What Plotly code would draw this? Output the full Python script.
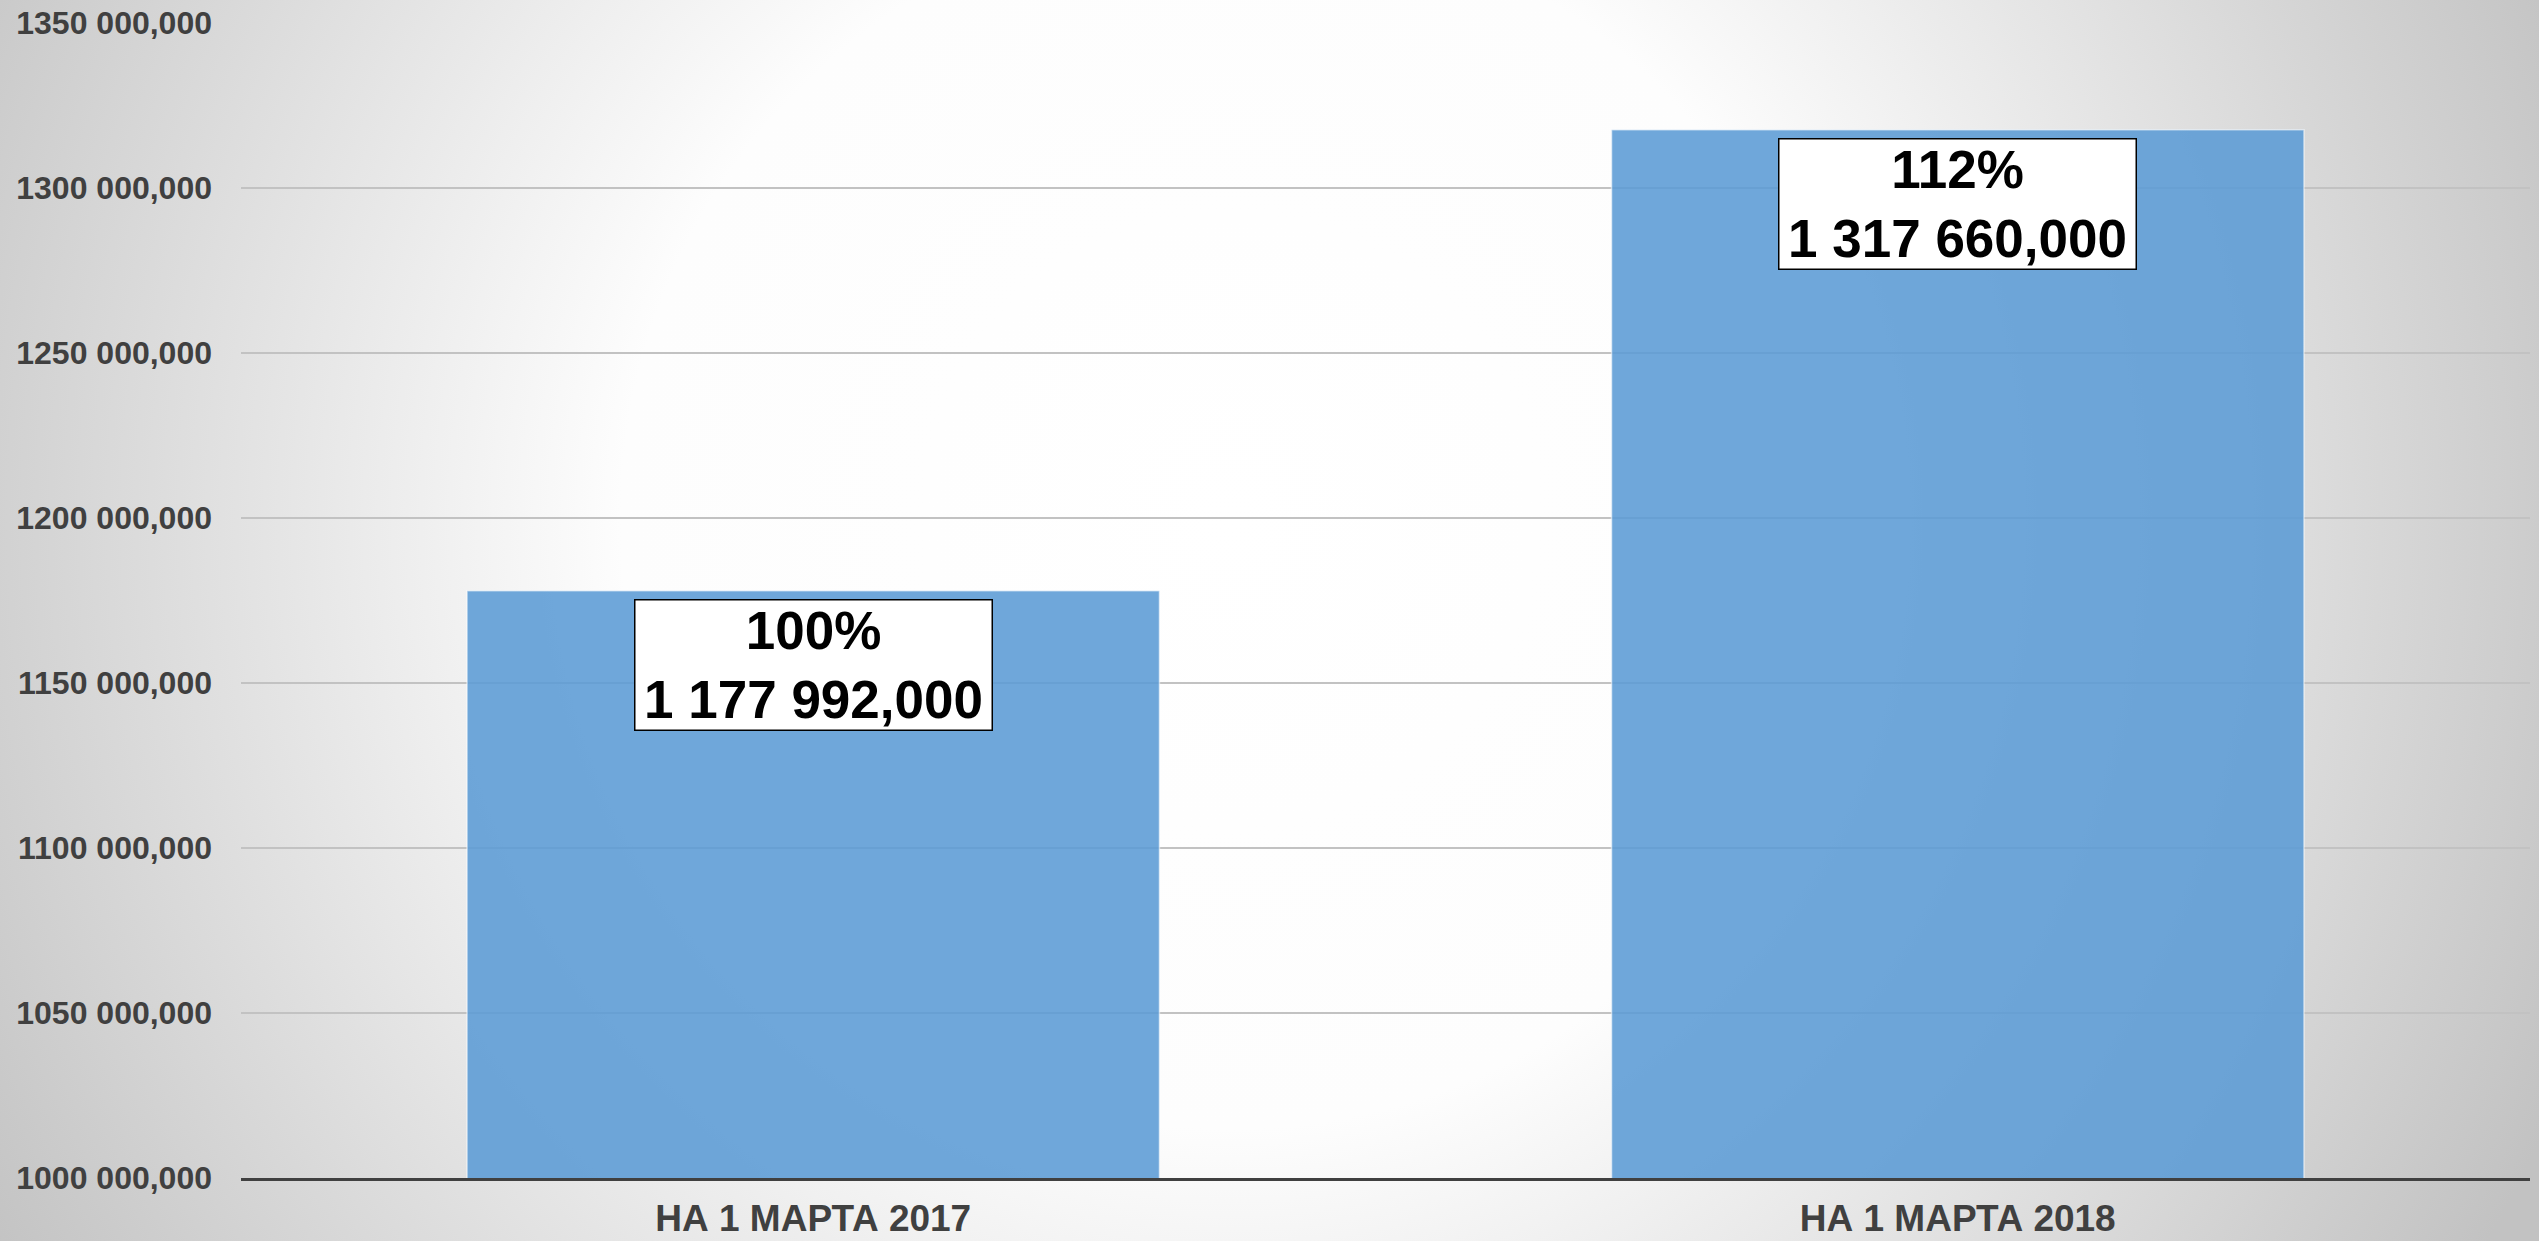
import base64
import plotly.graph_objects as go

# ---- data ----
categories = ["НА 1 МАРТА 2017", "НА 1 МАРТА 2018"]
values = [1177992.0, 1317660.0]
percent_labels = ["100%", "112%"]
value_labels = ["1 177 992,000", "1 317 660,000"]
tick_values = [1000000, 1050000, 1100000, 1150000, 1200000, 1250000, 1300000, 1350000]
tick_labels = ["1000 000,000", "1050 000,000", "1100 000,000", "1150 000,000",
               "1200 000,000", "1250 000,000", "1300 000,000", "1350 000,000"]

W, H = 2539, 1241
ML, MR, MT, MB = 241, 9, 23, 63
PW, PH = W - ML - MR, H - MT - MB

FONT = "Liberation Sans, Arial, sans-serif"

svg = (
    f'<svg xmlns="http://www.w3.org/2000/svg" width="{W}" height="{H}" '
    f'viewBox="0 0 {W} {H}" preserveAspectRatio="none">'
    '<defs><radialGradient id="g" gradientUnits="userSpaceOnUse" cx="1230" cy="520" r="1450">'
    '<stop offset="0" stop-color="#ffffff"/>'
    '<stop offset="0.42" stop-color="#fdfdfd"/>'
    '<stop offset="1" stop-color="#c2c2c2"/>'
    '</radialGradient></defs>'
    f'<rect x="0" y="0" width="{W}" height="{H}" fill="url(#g)"/></svg>'
)
bg_uri = "data:image/svg+xml;base64," + base64.b64encode(svg.encode()).decode()

fig = go.Figure()
fig.add_trace(go.Bar(
    x=categories, y=values,
    marker=dict(color="rgba(91,155,213,0.88)",
                line=dict(color="rgba(255,255,255,0.55)", width=1.5)),
    hoverinfo="skip",
))

for c, v, p, vl in zip(categories, values, percent_labels, value_labels):
    fig.add_annotation(
        x=c, y=v, xref="x", yref="y",
        text=f"<b>{p}<br>{vl}</b>",
        showarrow=False, yanchor="top", yshift=-8,
        font=dict(family=FONT, size=53, color="#000000"),
        bgcolor="#ffffff", bordercolor="#000000", borderwidth=1.5,
        borderpad=0, width=356, height=129, align="center",
    )

fig.add_layout_image(
    source=bg_uri, xref="paper", yref="paper",
    x=-ML / PW, y=1 + MT / PH, sizex=W / PW, sizey=H / PH,
    xanchor="left", yanchor="top", sizing="stretch", layer="below",
)

fig.update_layout(
    width=W, height=H,
    margin=dict(l=ML, r=MR, t=MT, b=MB, pad=0),
    paper_bgcolor="#ffffff", plot_bgcolor="rgba(0,0,0,0)",
    bargap=0.395, showlegend=False,
    xaxis=dict(
        showline=True, linecolor="#404040", linewidth=3,
        showgrid=False, ticks="", ticklabelstandoff=6, automargin=False,
        tickfont=dict(family=FONT, size=37, color="#404040", weight="bold"),
    ),
    yaxis=dict(
        range=[1000000, 1350000], tickvals=tick_values, ticktext=tick_labels,
        showgrid=True, gridcolor="#c2c2c2", gridwidth=1.5,
        zeroline=False, showline=False, ticks="", ticklabelstandoff=28,
        automargin=False,
        tickfont=dict(family=FONT, size=32, color="#404040", weight="bold"),
    ),
)

fig.write_html(
    "out.html",
    config={"displayModeBar": False},
    post_script="document.body.style.margin='0';document.body.style.overflow='hidden';",
)
